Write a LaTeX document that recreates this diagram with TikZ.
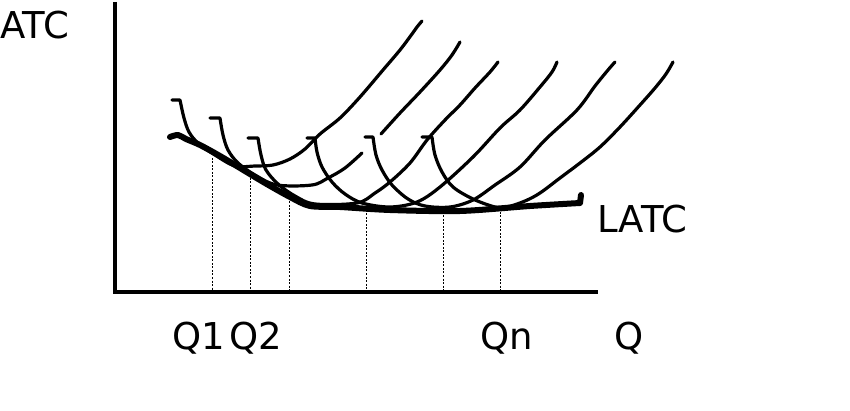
\documentclass[tikz,border=0pt]{standalone}
\usepackage{fontspec}
\setmainfont{DejaVu Sans}
\begin{document}
\begin{tikzpicture}[x=1pt,y=-1pt,
  axisline/.style={line width=3.6pt},
  srac/.style={line width=3.2pt, line join=round, line cap=round},
  envline/.style={line width=6pt, line join=round, line cap=round},
  dropline/.style={line width=0.9pt, dash pattern=on 2pt off 1.5pt},
  lbl/.style={font=\fontsize{37}{42}\selectfont, inner sep=0pt, anchor=base west}]
\useasboundingbox (0,0) rectangle (850,411);
% axes
\coordinate (top) at (115,2);
\coordinate (orig) at (115,292);
\coordinate (xend) at (598,292);
\draw[axisline] (top) -- (orig) -- (xend);
% drop lines
\foreach \x/\y in {212/158,250/178,289/198,366/210,443/212,500/212}
  \draw[dropline] (\x,\y) -- (\x,292);
% envelope LATC
\draw[envline] plot[smooth, tension=0.5] coordinates {(170,137) (178,135) (186,139) (200,145) (220,156) (240,168) (265,183) (290,197) (310,206) (340,207) (390,210) (460,211) (530,206) (580,203)} -- (581,195);
% SRATC curves
\draw[srac] (172,100) -- (180,100) plot[smooth, tension=0.55] coordinates {(180,100) (184,118) (189,132) (198,143) (215,155) (235,166) (255,166) (273,165) (290,159) (305,149) (320,134) (340,118) (360,97) (383,70) (400,50) (412,34) (417,27) (422,21)};
\draw[srac] (210,118) -- (220,118) plot[smooth, tension=0.55] coordinates {(220,118) (223,135) (228,150) (238,163) (255,175) (277,185) (312,185) (328,178) (345,168) (362,153)};
\draw[srac] plot[smooth, tension=0.55] coordinates {(381,134) (400,113) (420,92) (440,70) (452,55) (460,42)};
\draw[srac] (248,138) -- (258,138) plot[smooth, tension=0.55] coordinates {(258,138) (261,155) (266,170) (278,184) (295,196) (315,204) (357,203) (375,193) (390,182) (410,163) (427,140) (445,120) (460,105) (475,88) (490,72) (498,62)};
\draw[srac] (307,138) -- (315,138) plot[smooth, tension=0.55] coordinates {(315,138) (317,152) (322,167) (332,182) (345,194) (362,203) (390,207) (417,202) (440,187) (473,157) (500,128) (520,110) (540,87) (552,72) (557,62)};
\draw[srac] (365,137) -- (373,137) plot[smooth, tension=0.55] coordinates {(373,137) (376,155) (382,170) (392,185) (408,199) (425,206) (450,207) (473,200) (495,185) (520,167) (545,140) (577,110) (595,86) (608,70) (615,62)};
\draw[srac] (422,137) -- (432,137) plot[smooth, tension=0.55] coordinates {(432,137) (435,155) (442,172) (453,187) (473,199) (495,207) (507,207) (525,201) (540,193) (560,178) (580,163) (600,147) (620,127) (640,105) (655,88) (666,74) (673,62)};
% labels
\node[lbl] (atc) at (0,39) {ATC};
\node[lbl] (latc) at (597,233) {LATC};
\node[lbl] (q1) at (172,349) {Q1};
\node[lbl] (q2) at (229,349) {Q2};
\node[lbl] (qn) at (480,349) {Qn};
\node[lbl] (q) at (614,349) {Q};
\end{tikzpicture}
\end{document}
